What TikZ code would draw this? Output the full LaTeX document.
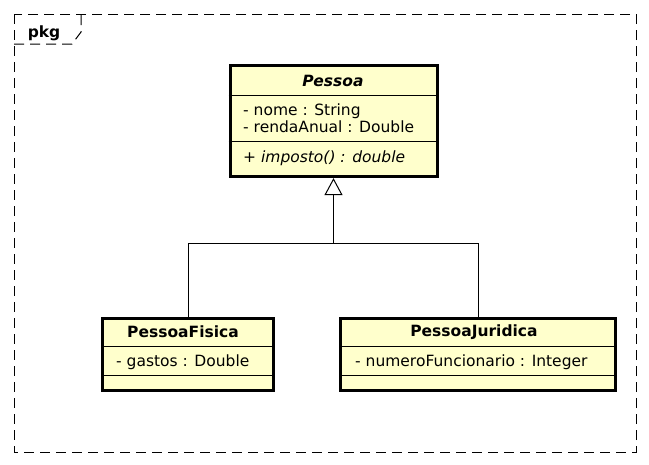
\documentclass[tikz,border=0pt]{standalone}
\usepackage{fontspec}
\setmainfont{DejaVu Sans}
\usepackage{xcolor}
\usetikzlibrary{
    positioning,
    calc,
    arrows.meta
}
\definecolor{AmareloClasse}{HTML}{FFFFCC}
\newcommand{\fonteUml}{\fontsize{15.5}{17}\selectfont}

\tikzset{
    classe/.style={draw, fill=AmareloClasse, line width=3pt, inner sep=0pt},
    titulo/.style={font=\fonteUml\bfseries, inner sep=0pt},
    membro/.style={font=\fonteUml, anchor=west, inner sep=0pt, align=left},
    divisor/.style={line width=1pt},
    moldura/.style={line width=1pt, dash pattern=on 10pt off 6pt},
    heranca/.style={line width=1pt, -{Triangle[open, length=17pt, width=18pt, line width=1pt]}},
    linha/.style={line width=1pt}
}

\begin{document}
\begin{tikzpicture}[x=1pt, y=-1pt]
    \useasboundingbox (0,0) rectangle (649,464);
    % pacote
    \draw[moldura] (14,14) rectangle (636,452);
    \draw[moldura] (14,44) -- (72,44) -- (81,32) -- (81,14);
    \node[titulo, anchor=base] (rotulo) at (44,37) {pkg};

    % classe abstrata
    \node[classe, minimum width=207pt, minimum height=111pt] (pessoa) at (333.5,121.1) {};
    \draw[divisor] (pessoa.west |- 0,95.5) -- (pessoa.east |- 0,95.5);
    \draw[divisor] (pessoa.west |- 0,141.7) -- (pessoa.east |- 0,141.7);
    \node[titulo, font=\fonteUml\bfseries\itshape] (tituloPessoa) at (333,81) {Pessoa};
    \node[membro] (atribPessoa) at (243,118.5) {- nome : String\\- rendaAnual : Double};
    \node[membro, font=\fonteUml\itshape] (metodoPessoa) at (243,158) {+ imposto() : double};

    % subclasses
    \node[classe, minimum width=171pt, minimum height=71.7pt] (pessoaFisica) at (188,354.2) {};
    \draw[divisor] (pessoaFisica.west |- 0,346.5) -- (pessoaFisica.east |- 0,346.5);
    \draw[divisor] (pessoaFisica.west |- 0,375) -- (pessoaFisica.east |- 0,375);
    \node[titulo] (tituloFisica) at (183,332) {PessoaFisica};
    \node[membro] (atribFisica) at (116,362.5) {- gastos : Double};

    \node[classe, minimum width=275pt, minimum height=71.7pt] (pessoaJuridica) at (478,354.2) {};
    \draw[divisor] (pessoaJuridica.west |- 0,346.5) -- (pessoaJuridica.east |- 0,346.5);
    \draw[divisor] (pessoaJuridica.west |- 0,375) -- (pessoaJuridica.east |- 0,375);
    \node[titulo] (tituloJuridica) at (474,332) {PessoaJuridica};
    \node[membro] (atribJuridica) at (355,362.5) {- numeroFuncionario : Integer};

    % generalizacao
    \coordinate (juncao) at (333.5,243);
    \draw[heranca] (pessoaFisica.north) |- (juncao) -- (pessoa.south);
    \draw[linha] (pessoaJuridica.north) |- (juncao);
\end{tikzpicture}
\end{document}
